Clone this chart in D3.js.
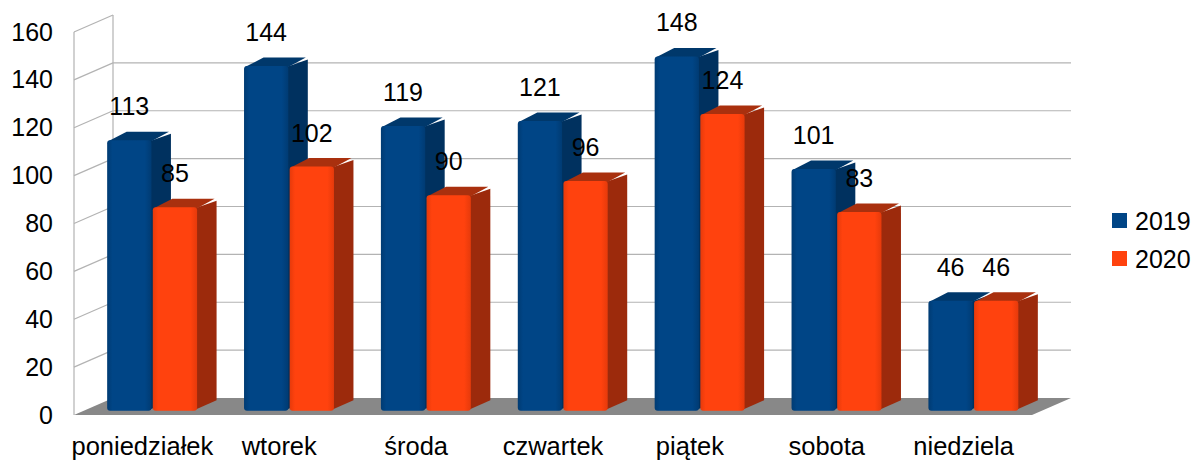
<!DOCTYPE html>
<html>
<head>
<meta charset="utf-8">
<script src="https://cdn.jsdelivr.net/npm/d3@7"></script>
<style>
  body { margin: 0; background: #fff; }
  svg text { font-family: "Liberation Sans", Arial, sans-serif; fill: #000; }
</style>
</head>
<body>
<script>
var categories = ['poniedziałek', 'wtorek', 'środa', 'czwartek', 'piątek', 'sobota', 'niedziela']
var series = ['2019', '2020']
var values2019 = [113, 144, 119, 121, 148, 101, 46]
var values2020 = [85, 102, 90, 96, 124, 83, 46]
var yTicks = [0, 20, 40, 60, 80, 100, 120, 140, 160]

var colors = {
  '2019': { front: '#004586', edge: '#003b73', side: '#00315f', top: '#00386b' },
  '2020': { front: '#ff420e', edge: '#e63a0b', side: '#9c2a0c', top: '#a9300e' }
}

var W = 1196, H = 463
var depthX = 39, depthY = -17   // offset from front plane to back wall

var svg = d3.select(document.body).append('svg')
  .attr('width', W).attr('height', H)

var x0 = d3.scaleBand().domain(categories).range([74, 1032])
  .paddingInner(0.343).paddingOuter(0.171)
var x1 = d3.scaleBand().domain(series).range([0, x0.bandwidth()]).paddingInner(0.03)
var y = d3.scaleLinear().domain([0, 160]).range([415, 32])

function px(x, f) { return x + depthX * f }
function py(yy, f) { return yy + depthY * f }

// gradients for front faces
var defs = svg.append('defs')
series.forEach(function(s) {
  var g = defs.append('linearGradient').attr('id', 'g' + s)
    .attr('x1', 0).attr('x2', 1).attr('y1', 0).attr('y2', 0)
  g.append('stop').attr('offset', '0%').attr('stop-color', colors[s].edge)
  g.append('stop').attr('offset', '12%').attr('stop-color', colors[s].front)
  g.append('stop').attr('offset', '85%').attr('stop-color', colors[s].front)
  g.append('stop').attr('offset', '100%').attr('stop-color', colors[s].edge)
})

// walls
var grid = svg.append('g').attr('stroke', '#b3b3b3').attr('stroke-width', 1.2).attr('fill', 'none')
grid.append('line')
  .attr('x1', 74).attr('x2', 74).attr('y1', y(160)).attr('y2', y(0))
grid.append('line')
  .attr('x1', px(74, 1)).attr('x2', px(74, 1)).attr('y1', py(y(160), 1)).attr('y2', py(y(0), 1))
grid.selectAll('.side').data(yTicks.slice(1)).enter().append('line')
  .attr('x1', 74).attr('y1', function(d) { return y(d) })
  .attr('x2', px(74, 1)).attr('y2', function(d) { return py(y(d), 1) })
grid.selectAll('.back').data(yTicks.slice(1, -1)).enter().append('line')
  .attr('x1', px(74, 1)).attr('x2', px(1032, 1))
  .attr('y1', function(d) { return py(y(d), 1) })
  .attr('y2', function(d) { return py(y(d), 1) })

// floor
svg.append('polygon')
  .attr('points', [[74, y(0)], [1032, y(0)], [px(1032, 1), py(y(0), 1)], [px(74, 1), py(y(0), 1)]].join(' '))
  .attr('fill', '#888')

// bars
var rows = []
categories.forEach(function(c, i) {
  rows.push({ cat: c, s: '2019', v: values2019[i] })
  rows.push({ cat: c, s: '2020', v: values2020[i] })
})

var f0 = 0.25, f1 = 0.75
var bars = svg.append('g')
rows.forEach(function(d) {
  var xl = px(x0(d.cat) + x1(d.s), f0)
  var xr = xl + x1.bandwidth()
  var yt = py(y(d.v), f0)
  var yb = py(y(0), f0)
  var ddx = depthX * (f1 - f0), ddy = depthY * (f1 - f0)
  var g = bars.append('g')
  g.append('polygon')
    .attr('points', [[xr - 2, yt + 1], [xr + ddx, yt + ddy + 2], [xr + ddx, yb + ddy - 2], [xr - 2, yb - 1]].join(' '))
    .attr('fill', colors[d.s].side)
  g.append('polygon')
    .attr('points', [[xl + 1, yt + 1], [xl + ddx, yt + ddy], [xr + ddx - 2, yt + ddy], [xr, yt + 1]].join(' '))
    .attr('fill', colors[d.s].top)
  g.append('rect')
    .attr('x', xl).attr('y', yt)
    .attr('width', x1.bandwidth()).attr('height', yb - yt)
    .attr('rx', 3)
    .attr('fill', 'url(#g' + d.s + ')')
})

// value labels
svg.append('g').selectAll('text').data(rows).enter().append('text')
  .attr('x', function(d) { return px(x0(d.cat) + x1(d.s), f0) + x1.bandwidth() / 2 })
  .attr('y', function(d) { return py(y(d.v), f0) - 25 })
  .attr('text-anchor', 'middle')
  .style('font-size', '25px')
  .text(function(d) { return d.v })

// axes
var yAxis = svg.append('g').attr('transform', 'translate(74,0)')
  .call(d3.axisLeft(y).tickValues(yTicks).tickSize(0).tickPadding(21))
yAxis.select('.domain').remove()
yAxis.selectAll('text').style('font-size', '25px').attr('fill', '#000')

var xAxis = svg.append('g').attr('transform', 'translate(0,' + y(0) + ')')
  .call(d3.axisBottom(x0).tickSize(0))
xAxis.select('.domain').remove()
xAxis.selectAll('text').style('font-size', '25.5px').attr('fill', '#000')
  .attr('y', 40).attr('dy', 0)

// legend
var legend = svg.append('g').selectAll('g').data(series).enter().append('g')
  .attr('transform', function(d, i) { return 'translate(1112,' + (213 + i * 38) + ')' })
legend.append('rect').attr('width', 15).attr('height', 15)
  .attr('fill', function(d) { return colors[d].front })
legend.append('text').attr('x', 23).attr('y', 17)
  .style('font-size', '25px')
  .text(function(d) { return d })
</script>
</body>
</html>
